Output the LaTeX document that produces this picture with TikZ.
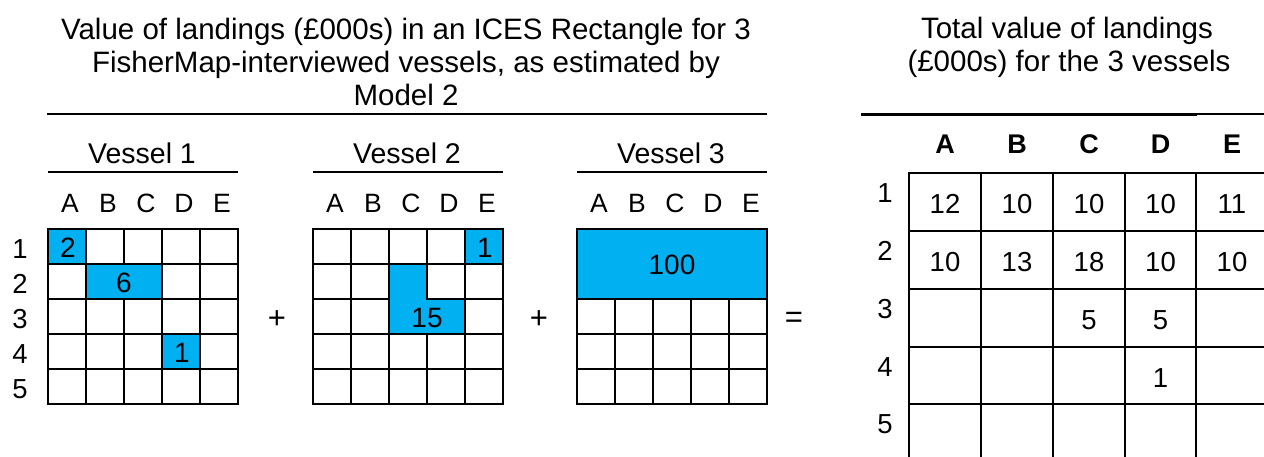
\documentclass[tikz,border=0pt]{standalone}
\usepackage{fontspec}
\setmainfont{Liberation Sans}
\definecolor{cellblue}{RGB}{0,176,240}
\begin{document}
\begin{tikzpicture}[x=1pt,y=-1pt,
  txt/.style={font=\fontsize{26.5}{33}\selectfont, inner sep=0pt, anchor=base},
  val/.style={font=\fontsize{27.5}{33}\selectfont, inner sep=0pt, anchor=base},
  ttl/.style={font=\fontsize{29.5}{33}\selectfont, inner sep=0pt, anchor=base},
  vsl/.style={font=\fontsize{28.5}{33}\selectfont, inner sep=0pt, anchor=base},
  num/.style={font=\fontsize{28}{33}\selectfont, inner sep=0pt, anchor=center},
  op/.style={font=\fontsize{31}{33}\selectfont, inner sep=0pt, anchor=center},
  hdr/.style={font=\fontsize{27}{30}\selectfont\bfseries, inner sep=0pt, anchor=base},
  gridline/.style={line width=2.2pt, line cap=rect},
  tabline/.style={line width=2pt, line cap=rect},
  rule/.style={line width=2.6pt},
  bluecell/.style={fill=cellblue}]
\useasboundingbox (0,0) rectangle (1264,456);

% ---------- left title ----------
\node[ttl] (t1) at (406,39) {Value of landings (£000s) in an ICES Rectangle for 3};
\node[ttl] (t2) at (406,72) {FisherMap-interviewed vessels, as estimated by};
\node[ttl] (t3) at (406,105) {Model 2};
\draw[rule] (47,114) -- (767,114);

% ---------- right title ----------
\node[ttl] (r1) at (1067,38) {Total value of landings};
\node[ttl] (r2) at (1069,71) {(£000s) for the 3 vessels};
\draw[line width=3pt] (861,114) -- (1197,114);
\draw[line width=1.3pt] (1197,114) -- (1264,114);

% ---------- vessel grids ----------
\foreach \v/\x in {1/48,2/313,3/577} {
  \node[vsl] (vt\v) at (\x+94,163) {Vessel \v};
  \draw[rule] (\x,172) -- (\x+190,172);
  \foreach \c [count=\i from 0] in {A,B,C,D,E}
    \node[txt] (v\v c\c) at (\x+22+38*\i,212) {\c};
  \foreach \k in {0,...,5} {
    \draw[gridline] (\x+38*\k,229) -- (\x+38*\k,404);
    \draw[gridline] (\x,229+35*\k) -- (\x+190,229+35*\k);
  }
}

% row labels
\foreach \r in {1,...,5}
  \node[val] (rl\r) at (20,229+35*\r-6) {\r};

% blue cells, vessel 1
\fill[bluecell] (49.1,230.1) rectangle (84.9,262.9);
\fill[bluecell] (87.1,265.1) rectangle (160.9,297.9);
\fill[bluecell] (163.1,335.1) rectangle (198.9,367.9);
\node[num] (a1) at (68,248) {2};
\node[num] (a2) at (124,283) {6};
\node[num] (a3) at (182,353) {1};

% blue cells, vessel 2
\fill[bluecell] (466.1,230.1) rectangle (501.9,262.9);
\fill[bluecell] (390.1,265.1) -- (425.9,265.1) -- (425.9,300.1) -- (463.9,300.1)
   -- (463.9,332.9) -- (390.1,332.9) -- cycle;
\node[num] (b1) at (485,248) {1};
\node[num] (b2) at (427,318) {15};

% blue cells, vessel 3
\fill[bluecell] (578.1,230.1) rectangle (765.9,297.9);
\node[num] (c1) at (672,265) {100};

% operators
\node[op] (plus1) at (277,320) {+};
\node[op] (plus2) at (539,320) {+};
\node[op] (eq) at (794,320) {=};

% ---------- total table ----------
\foreach \xx in {909,981,1053,1125,1196}
  \draw[tabline] (\xx,173) -- (\xx,456);
\foreach \yy in {173,231,289,347,404}
  \draw[tabline] (909,\yy) -- (1264,\yy);

\foreach \c/\xx in {A/945,B/1017,C/1089,D/1160.5,E/1232}
  \node[hdr] (h\c) at (\xx,153) {\c};

\foreach \r/\yy in {1/202,2/260,3/318,4/376,5/433}
  \node[val] (tr\r) at (885,\yy) {\r};

\foreach \r/\c/\v in {1/945/12,1/1017/10,1/1089/10,1/1160.5/10,1/1232/11,
                      2/945/10,2/1017/13,2/1089/18,2/1160.5/10,2/1232/10,
                      3/1089/5,3/1160.5/5,4/1160.5/1} {
  \pgfmathsetmacro{\yb}{173+58*(\r-1)+40}
  \node[val] (tv\r-\c) at (\c,\yb) {\v};
}
\end{tikzpicture}
\end{document}
